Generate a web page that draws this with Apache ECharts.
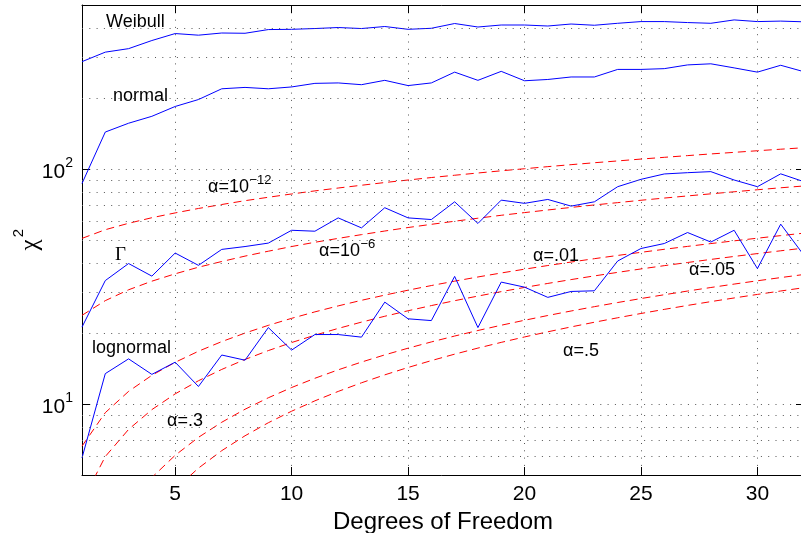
<!DOCTYPE html>
<html>
<head>
<meta charset="utf-8">
<script src="https://cdn.jsdelivr.net/npm/echarts@6/dist/echarts.min.js"></script>
<style>html,body{margin:0;padding:0;background:#fff}#c{width:801px;height:533px}</style>
</head>
<body>
<div id="c"></div>
<script>
// ---------- data ----------
const dof = [1,2,3,4,5,6,7,8,9,10,11,12,13,14,15,16,17,18,19,20,21,22,23,24,25,26,27,28,29,30,31,32];
const xTicks = [5,10,15,20,25,30];
const yMinor = [6,7,8,9,20,30,40,50,60,70,80,90,200,300,400];

const weibull   = [287,315,326,353,378,372,380,379,393,394,397,401,397,405,394,398,417,403,411,411,407,415,410,418,425,425,421,418,432,425,427,424];
const normal    = [87,144,157,168,185,198,220,223,220,224,232,233,229,239,227,233,259,239,261,238,241,247,247,266,266,268,278,281,270,259,277,260];
const gammaD    = [21.3,33.6,39.7,35.1,44.0,39.0,45.6,46.9,48.5,55.0,54.5,62.1,56.3,68.6,62.1,61.1,72.7,58.8,73.9,71.6,74.4,69.7,72.7,84.3,90.6,95.5,96.7,97.7,90.0,84.3,95.6,88.5];
const lognormal = [5.91,13.5,15.6,13.4,15.1,11.9,16.2,15.4,21.2,17.0,19.8,19.8,19.3,27.2,23.1,22.7,35.0,21.2,33.1,31.5,28.5,30.2,30.4,40.7,46.0,48.3,53.8,49.0,55.0,37.8,58.4,43.0];

const a1e12 = [50.8,55.3,58.9,62.2,65.2,68.1,70.8,73.5,76.0,78.5,80.9,83.2,85.5,87.8,90.0,92.2,94.3,96.4,98.5,100.5,102.6,104.6,106.6,108.5,110.5,112.4,114.3,116.2,118.0,119.9,121.7,123.5];
const a1e6  = [23.9,27.6,30.7,33.4,35.9,38.3,40.5,42.7,44.8,46.9,48.9,50.8,52.7,54.6,56.5,58.3,60.1,61.9,63.7,65.4,67.1,68.8,70.5,72.1,73.8,75.4,77.0,78.6,80.2,81.8,83.4,84.9];
const a01   = [6.635,9.210,11.345,13.277,15.086,16.812,18.475,20.090,21.666,23.209,24.725,26.217,27.688,29.141,30.578,32.000,33.409,34.805,36.191,37.566,38.932,40.289,41.638,42.980,44.314,45.642,46.963,48.278,49.588,50.892,52.191,53.486];
const a05   = [3.841,5.991,7.815,9.488,11.070,12.592,14.067,15.507,16.919,18.307,19.675,21.026,22.362,23.685,24.996,26.296,27.587,28.869,30.144,31.410,32.671,33.924,35.172,36.415,37.652,38.885,40.113,41.337,42.557,43.773,44.985,46.194];
const a3    = [1.074,2.408,3.665,4.878,6.064,7.231,8.383,9.524,10.656,11.781,12.899,14.011,15.119,16.222,17.322,18.418,19.511,20.601,21.689,22.775,23.858,24.939,26.018,27.096,28.172,29.246,30.319,31.391,32.461,33.530,34.598,35.665];
const a5    = [0.455,1.386,2.366,3.357,4.351,5.348,6.346,7.344,8.343,9.342,10.341,11.340,12.340,13.339,14.339,15.338,16.338,17.338,18.338,19.337,20.337,21.337,22.337,23.337,24.337,25.336,26.336,27.336,28.336,29.336,30.336,31.336];

// ---------- chart ----------
const SANS = '"Liberation Sans", Arial, Helvetica, sans-serif';
const SERIF = '"Liberation Serif", "Times New Roman", serif';
const pairs = arr => dof.map((d, i) => [d, arr[i]]);
const gridStyle = {color: '#555', width: 1, type: [1, 6.3]};

const blue = (name, arr) => ({
  name, type: 'line', data: pairs(arr), symbol: 'none', z: 3,
  lineStyle: {color: '#0000ff', width: 1}, emphasis: {disabled: true}
});
const red = (name, arr) => ({
  name, type: 'line', data: pairs(arr), symbol: 'none', z: 2,
  lineStyle: {color: '#ff0000', width: 1, type: [8, 5]}, emphasis: {disabled: true}
});

const chart = echarts.init(document.getElementById('c'), null, {renderer: 'canvas'});

const option = {
  animation: false,
  backgroundColor: '#ffffff',
  grid: {left: 82, right: -3, top: 5, bottom: 58, containLabel: false, outerBoundsMode: 'none'},
  xAxis: [{
    type: 'value', min: 1, max: 32, minInterval: 5, maxInterval: 5, position: 'bottom',
    axisLine: {onZero: false, lineStyle: {color: '#000', width: 1}},
    axisTick: {inside: true, length: 8, lineStyle: {color: '#000'}},
    axisLabel: {formatter: v => xTicks.includes(v) ? String(v) : '', color: '#000', fontSize: 21, fontFamily: SANS, margin: 9},
    splitLine: {show: true, showMinLine: false, showMaxLine: false, lineStyle: gridStyle},
    name: 'Degrees of Freedom', nameLocation: 'middle', nameGap: 27,
    nameTextStyle: {fontSize: 24, color: '#000', fontFamily: SANS}
  }, {
    type: 'value', min: 1, max: 32, minInterval: 5, maxInterval: 5, position: 'top',
    axisLine: {onZero: false, lineStyle: {color: '#000', width: 1}},
    axisTick: {inside: true, length: 8, lineStyle: {color: '#000'}},
    axisLabel: {show: false}, splitLine: {show: false}
  }],
  yAxis: [{
    type: 'log', logBase: 10, min: 5, max: 500, position: 'left',
    axisLine: {onZero: false, lineStyle: {color: '#000', width: 1}},
    axisTick: {inside: true, length: 8, lineStyle: {color: '#000'}},
    axisLabel: {
      margin: 9, color: '#000', fontFamily: SANS,
      formatter: v => {
        const e = Math.round(Math.log10(v));
        return Math.abs(Math.pow(10, e) - v) < 1e-6 ? '{b|10}{s|' + e + '}' : '';
      },
      rich: {
        b: {fontSize: 21, fontFamily: SANS, color: '#000', padding: [5, 0, 0, 0], verticalAlign: 'bottom'},
        s: {fontSize: 14, fontFamily: SANS, color: '#000', verticalAlign: 'top'}
      }
    },
    splitLine: {show: true, showMinLine: false, showMaxLine: false, lineStyle: gridStyle}
  }, {
    type: 'log', logBase: 10, min: 5, max: 500, position: 'right',
    axisLine: {onZero: false, lineStyle: {color: '#000', width: 1}},
    axisTick: {inside: true, length: 8, lineStyle: {color: '#000'}},
    axisLabel: {show: false}, splitLine: {show: false}
  }],
  series: [
    {
      name: 'minor-grid', type: 'line', data: [], silent: true, z: 1,
      markLine: {
        silent: true, symbol: 'none', label: {show: false}, animation: false,
        lineStyle: gridStyle, emphasis: {disabled: true},
        data: yMinor.map(v => ({yAxis: v}))
      }
    },
    red('α=10^-12', a1e12), red('α=10^-6', a1e6), red('α=.01', a01),
    red('α=.05', a05), red('α=.3', a3), red('α=.5', a5),
    blue('Weibull', weibull), blue('normal', normal), blue('Γ', gammaD), blue('lognormal', lognormal)
  ]
};
chart.setOption(option);

// ---------- annotation texts ----------
const mctx = document.createElement('canvas').getContext('2d');
function tw(text, size, fam) { mctx.font = size + 'px ' + fam; return mctx.measureText(text).width; }
const FS = 18, SUP = 13;
function txt(text, left, baseline, fam, size) {
  size = size || FS; fam = fam || SANS;
  return {type: 'text', x: left, y: baseline - 0.31 * size, z: 10, silent: true,
    style: {text, fontSize: size, fontFamily: fam, fill: '#000', align: 'left', verticalAlign: 'middle'}};
}
function supTxt(base, sup, left, baseline) {
  const w = tw(base, FS, SANS);
  return [txt(base, left, baseline), txt(sup, left + w + 0.5, baseline - 9, SANS, SUP)];
}
function rotTxt(text, cx, cy, fam, size) {
  return {type: 'text', x: cx, y: cy, rotation: Math.PI / 2, z: 10, silent: true,
    style: {text, fontSize: size, fontFamily: fam, fill: '#000', align: 'center', verticalAlign: 'middle'}};
}
const graphics = [].concat(
  [txt('Weibull', 106, 28), txt('normal', 113, 102), txt('Γ', 115, 261, SERIF, 19), txt('lognormal', 92, 354)],
  supTxt('α=10', '−12', 208, 193),
  supTxt('α=10', '−6', 319, 257),
  [txt('α=.01', 533, 262), txt('α=.05', 689, 276), txt('α=.3', 167, 427), txt('α=.5', 563, 357)],
  [rotTxt('χ', 30, 245, SERIF, 25), rotTxt('2', 19, 233, SANS, 15)]
);
chart.setOption({graphic: graphics});
</script>
</body>
</html>
